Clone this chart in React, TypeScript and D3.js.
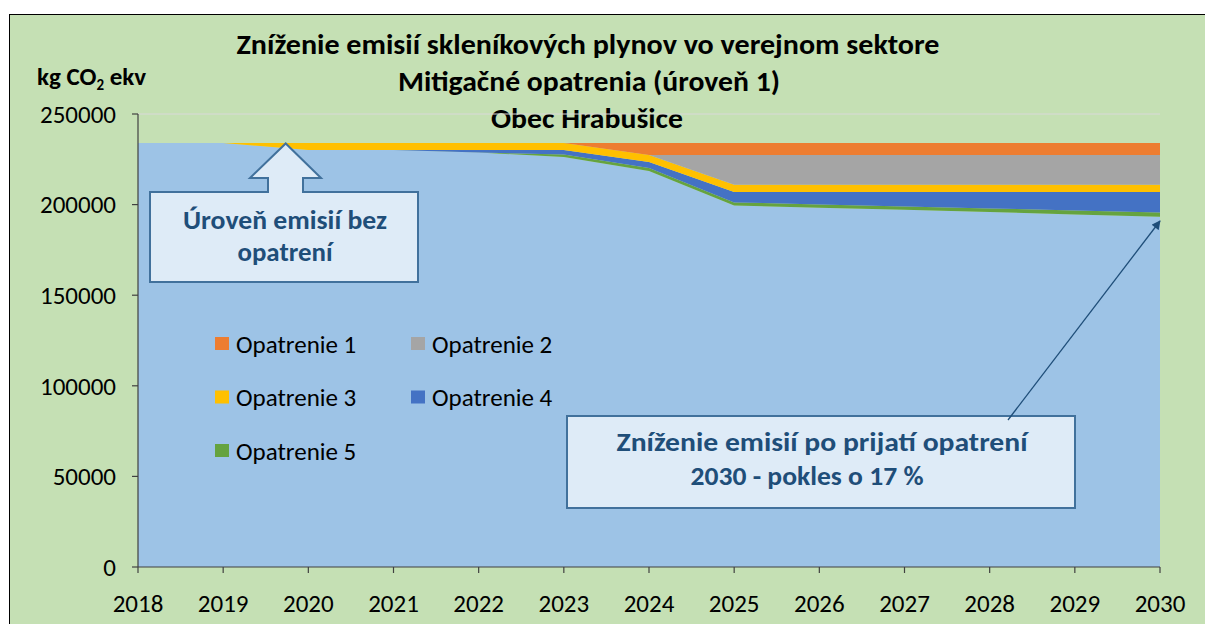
import * as d3 from 'd3';
import React from 'react';

const years = [2018, 2019, 2020, 2021, 2022, 2023, 2024, 2025, 2026, 2027, 2028, 2029, 2030];
const bezOpatreni = [234000, 234000, 230100, 230100, 228700, 226300, 218500, 199500, 198300, 197100, 195900, 194600, 193300];
const opatrenie5 = [0, 0, 0, 0, 0, 1400, 1700, 1700, 1800, 1900, 2000, 2200, 2400];
const opatrenie4 = [0, 0, 0, 0, 1400, 2400, 3300, 5800, 6900, 8000, 9100, 10200, 11300];
const opatrenie3 = [0, 0, 3900, 3900, 3900, 3900, 3900, 3900, 3900, 3900, 3900, 3900, 3900];
const opatrenie2 = [0, 0, 0, 0, 0, 0, 0, 16500, 16500, 16500, 16500, 16500, 16500];
const opatrenie1 = [0, 0, 0, 0, 0, 0, 6600, 6600, 6600, 6600, 6600, 6600, 6600];
const yTicks = [0, 50000, 100000, 150000, 200000, 250000];

const seriesKeys = ['base', 'op5', 'op4', 'op3', 'op2', 'op1'];
const colors = {
  base: '#9DC3E6',
  op5: '#65A33F',
  op4: '#4472C4',
  op3: '#FFC000',
  op2: '#A5A5A5',
  op1: '#ED7D31'
};
const legendItems = [
  { key: 'op1', label: 'Opatrenie 1' },
  { key: 'op2', label: 'Opatrenie 2' },
  { key: 'op3', label: 'Opatrenie 3' },
  { key: 'op4', label: 'Opatrenie 4' },
  { key: 'op5', label: 'Opatrenie 5' }
];

const font = 'Carlito, Calibri, Lato, sans-serif';
const dark = '#1F4E79';

export default function App() {
  const rows = years.map((yr, i) => ({
    year: yr,
    base: bezOpatreni[i],
    op5: opatrenie5[i],
    op4: opatrenie4[i],
    op3: opatrenie3[i],
    op2: opatrenie2[i],
    op1: opatrenie1[i]
  }));

  const x = d3.scaleLinear().domain([2018, 2030]).range([138, 1160]);
  const y = d3.scaleLinear().domain([0, 250000]).range([567, 114]);

  const stacked = d3.stack().keys(seriesKeys)(rows as any);
  const area = d3
    .area<any>()
    .x((d) => x(d.data.year))
    .y0((d) => y(d[0]))
    .y1((d) => y(d[1]));

  return (
    <svg width={1205} height={624} style={{ position: 'absolute', left: 0, top: 0 }} fontFamily={font}>
      <rect x={0} y={0} width={1205} height={624} fill="#fff" />
      <rect x={9.5} y={14.5} width={1300} height={700} fill="#C5E0B4" stroke="#000" strokeWidth={1} />

      {/* titulok */}
      <g fontWeight="bold" fontSize={28} textAnchor="middle" fill="#000">
        <text x={588} y={54} textLength={703} lengthAdjust="spacingAndGlyphs">
          Zníženie emisií skleníkových plynov vo verejnom sektore
        </text>
        <text x={589} y={91} textLength={382} lengthAdjust="spacingAndGlyphs">
          Mitigačné opatrenia (úroveň 1)
        </text>
        <text x={587} y={128} textLength={192} lengthAdjust="spacingAndGlyphs">
          Obec Hrabušice
        </text>
      </g>
      <text x={37} y={85} fontWeight="bold" fontSize={25} fill="#000">
        kg CO<tspan fontSize={15} dy={5}>2</tspan>
        <tspan dy={-5}> ekv</tspan>
      </text>

      {/* mriezka */}
      <line x1={x(2018)} x2={x(2030)} y1={y(250000)} y2={y(250000)} stroke="#D9D9D9" />

      {stacked.map((s: any) => (
        <path key={s.key} d={area(s) as string} fill={(colors as any)[s.key]} />
      ))}

      {/* osi */}
      <g stroke="#404040" strokeWidth={1.2}>
        <line x1={x(2018)} x2={x(2018)} y1={y(250000)} y2={y(0)} />
        <line x1={x(2018)} x2={x(2030)} y1={y(0)} y2={y(0)} />
        {yTicks.map((t) => (
          <line key={t} x1={x(2018) - 6} x2={x(2018)} y1={y(t)} y2={y(t)} />
        ))}
        {years.map((yr) => (
          <line key={yr} x1={x(yr)} x2={x(yr)} y1={y(0)} y2={y(0) + 6} />
        ))}
      </g>
      <g fontSize={25} fill="#000">
        {yTicks.map((t) => (
          <text key={t} x={116} y={y(t)} dy="0.35em" textAnchor="end">
            {t}
          </text>
        ))}
        {years.map((yr) => (
          <text key={yr} x={x(yr)} y={612} textAnchor="middle">
            {yr}
          </text>
        ))}
      </g>

      {/* legenda */}
      <g fontSize={25} fill="#000">
        {legendItems.map((it, i) => {
          const col = i % 2;
          const row = Math.floor(i / 2);
          const lx = 215 + col * 196;
          const ly = 344 + row * 53.5;
          return (
            <g key={it.key}>
              <rect x={lx} y={ly - 7} width={14} height={13} fill={(colors as any)[it.key]} />
              <text x={lx + 21} y={ly} dy="0.35em">
                {it.label}
              </text>
            </g>
          );
        })}
      </g>

      {/* popis 1 */}
      <path
        d="M150,192 L268,192 L268,178 L250,178 L285.7,143.5 L321,178 L303,178 L303,192 L418,192 L418,282 L150,282 Z"
        fill="#DEEBF7"
        stroke="#41719C"
        strokeWidth={2}
      />
      <g fontWeight="bold" fontSize={27} fill={dark} textAnchor="middle">
        <text x={285} y={229} textLength={204} lengthAdjust="spacingAndGlyphs">
          Úroveň emisií bez
        </text>
        <text x={285} y={261} textLength={95} lengthAdjust="spacingAndGlyphs">
          opatrení
        </text>
      </g>

      {/* popis 2 */}
      <rect x={567} y={416} width={508} height={92} fill="#DEEBF7" stroke="#41719C" strokeWidth={2} />
      <g fontWeight="bold" fontSize={27} fill={dark} textAnchor="middle">
        <text x={822} y={451} textLength={411} lengthAdjust="spacingAndGlyphs">
          Zníženie emisií po prijatí opatrení
        </text>
        <text x={807} y={485} textLength={233} lengthAdjust="spacingAndGlyphs">
          2030 - pokles o 17 %
        </text>
      </g>
      <defs>
        <marker id="hrot" viewBox="0 0 10 10" refX={9} refY={5} markerWidth={10} markerHeight={9} orient="auto" markerUnits="userSpaceOnUse">
          <path d="M0,0 L10,5 L0,10 Z" fill={dark} />
        </marker>
      </defs>
      <line x1={1008} y1={420} x2={1160} y2={221} stroke={dark} strokeWidth={1.3} markerEnd="url(#hrot)" />
    </svg>
  );
}
